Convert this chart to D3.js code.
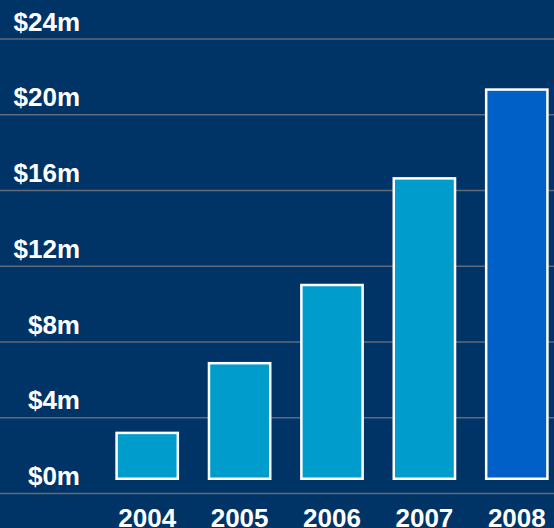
<!DOCTYPE html>
<html>
<head>
<meta charset="utf-8">
<script src="https://cdn.jsdelivr.net/npm/d3@7"></script>
<style>
  html, body { margin: 0; padding: 0; background: #003366; }
  svg { display: block; }
</style>
</head>
<body>
<div id="chart"></div>
<script>
// data
const years = ["2004", "2005", "2006", "2007", "2008"];
const revenue = [3.24, 6.92, 11.05, 16.68, 21.37]; // $m
const yTicks = [0, 4, 8, 12, 16, 20, 24];

let conf = {
    div: '#chart',
    width: 554,
    height: 528,
    zeroY: 493,
    topY: 38.5,
    barLeft: 101,
    barRight: 563
};

const svg = d3.select(conf.div)
    .append("svg")
    .attr("width", conf.width)
    .attr("height", conf.height)
    .style("font-family", "'Liberation Sans', Arial, sans-serif")
    .style("font-weight", "bold");

svg.append("rect")
    .attr("width", conf.width)
    .attr("height", conf.height)
    .attr("fill", "#003366");

let y = d3.scaleLinear()
    .domain([0, 24])
    .range([conf.zeroY, conf.topY]);

let x = d3.scaleBand()
    .domain(years)
    .range([conf.barLeft, conf.barRight])
    .paddingInner(0.31)
    .paddingOuter(0.155);

// gridlines + labels
let grid = svg.append("g")
    .call(d3.axisLeft(y).tickValues(yTicks).tickSize(0).tickFormat(d => "$" + d + "m"));
grid.select(".domain").remove();
grid.selectAll(".tick line")
    .attr("x1", 0)
    .attr("x2", conf.width)
    .attr("stroke", "#5f6b7a")
    .attr("stroke-width", 1.5);
grid.selectAll(".tick text")
    .attr("x", 80)
    .attr("dy", "-8.5")
    .attr("text-anchor", "end")
    .attr("fill", "#ffffff")
    .attr("font-size", 26)
    .attr("font-weight", "bold")
    .attr("font-family", "'Liberation Sans', Arial, sans-serif");

// bars, sitting a little above the zero line
svg.selectAll(".bar")
    .data(years)
    .enter().append("rect")
    .attr("class", "bar")
    .attr("x", d => x(d) + 1.25)
    .attr("width", x.bandwidth() - 2.5)
    .attr("y", (d, i) => y(revenue[i]) + 1.25)
    .attr("height", (d, i) => y(0) - 15.5 - y(revenue[i]))
    .attr("fill", (d, i) => i === years.length - 1 ? "#0060c8" : "#009ccc")
    .attr("stroke", "#ffffff")
    .attr("stroke-width", 2.5);

// year labels (cropped by the bottom edge, as in the original)
let xa = svg.append("g")
    .attr("transform", "translate(0," + conf.height + ")")
    .call(d3.axisBottom(x).tickSize(0));
xa.select(".domain").remove();
xa.selectAll(".tick text")
    .attr("y", 0)
    .attr("dy", "-1")
    .attr("fill", "#ffffff")
    .attr("font-size", 26)
    .attr("font-weight", "bold")
    .attr("font-family", "'Liberation Sans', Arial, sans-serif");
</script>
</body>
</html>
